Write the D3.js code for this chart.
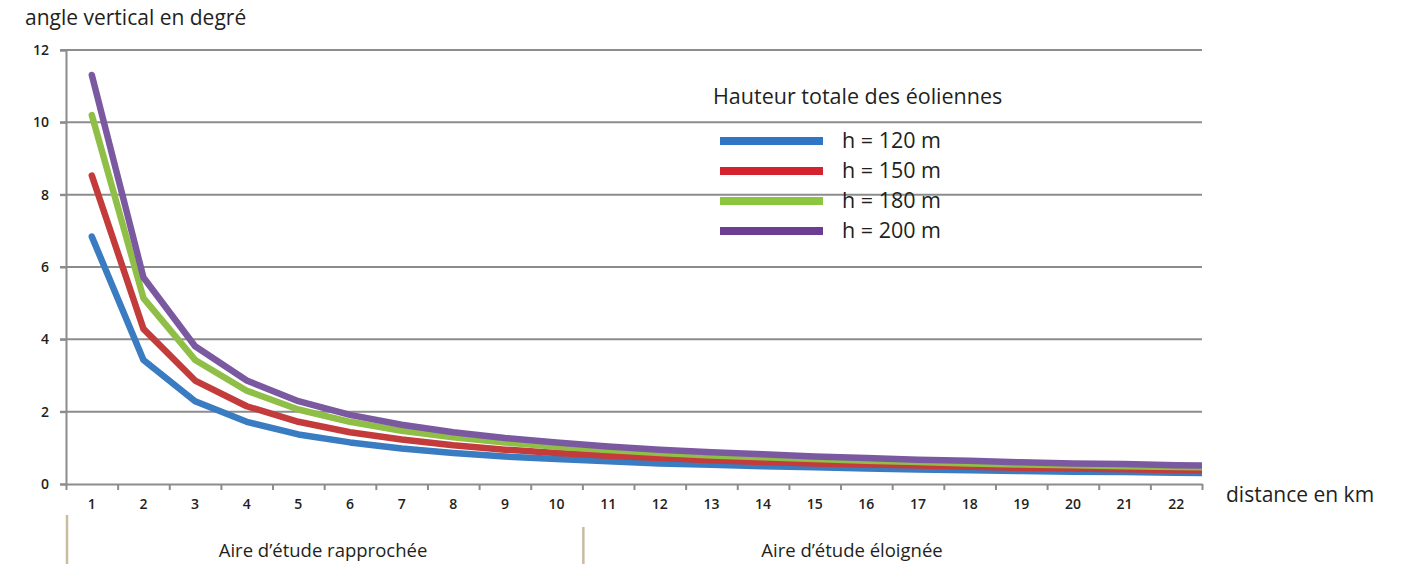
<!DOCTYPE html>
<html>
<head>
<meta charset="utf-8">
<script src="https://cdn.jsdelivr.net/npm/d3@7"></script>
<style>
  body { margin: 0; background: #fff; }
  svg text { font-family: "Open Sans", "Noto Sans", sans-serif; fill: #231f20; }
</style>
</head>
<body>
<div id="chart"></div>
<script>
// distances (km) on the x axis; the 23rd point is cut off at the plot edge
const distances = [1, 2, 3, 4, 5, 6, 7, 8, 9, 10, 11, 12, 13, 14, 15, 16, 17, 18, 19, 20, 21, 22, 23];
const xTickLabels = ["1", "2", "3", "4", "5", "6", "7", "8", "9", "10", "11", "12", "13", "14", "15", "16", "17", "18", "19", "20", "21", "22"];
const yTicks = [0, 2, 4, 6, 8, 10, 12];

// vertical angle (degrees) for each turbine height
const h120 = [6.84, 3.43, 2.29, 1.72, 1.37, 1.15, 0.98, 0.86, 0.76, 0.69, 0.63, 0.57, 0.53, 0.49, 0.46, 0.43, 0.40, 0.38, 0.36, 0.34, 0.33, 0.31, 0.30];
const h150 = [8.53, 4.29, 2.86, 2.15, 1.72, 1.43, 1.23, 1.07, 0.95, 0.86, 0.78, 0.72, 0.66, 0.61, 0.57, 0.54, 0.51, 0.48, 0.45, 0.43, 0.41, 0.39, 0.37];
const h180 = [10.20, 5.14, 3.43, 2.58, 2.06, 1.72, 1.47, 1.29, 1.15, 1.03, 0.94, 0.86, 0.79, 0.74, 0.69, 0.64, 0.61, 0.57, 0.54, 0.52, 0.49, 0.47, 0.45];
const h200 = [11.31, 5.71, 3.81, 2.86, 2.29, 1.91, 1.64, 1.43, 1.27, 1.15, 1.04, 0.95, 0.88, 0.82, 0.76, 0.72, 0.67, 0.64, 0.60, 0.57, 0.55, 0.52, 0.50];

const seriesNames = ["h = 120 m", "h = 150 m", "h = 180 m", "h = 200 m"];
const seriesValues = [h120, h150, h180, h200];
const lineColors = ["#3a7cc2", "#c33b3b", "#8fbf47", "#7b59a1"];
const legendColors = ["#2f76c4", "#d2232e", "#8cc640", "#6c3d92"];

// study zones, bounds in km on the x axis
const zoneNames = ["Aire d\u2019étude rapprochée", "Aire d\u2019étude éloignée"];
const zoneStarts = [0.5, 10.5];
const zoneEnds = [10.5, 22.5];

const width = 1412, height = 567;
const margin = { top: 50, right: 210, bottom: 83, left: 66 };

const svg = d3.select('#chart').append('svg')
  .attr('width', width)
  .attr('height', height);

const x = d3.scaleLinear()
  .domain([0.5, 22.5])
  .range([margin.left, width - margin.right]);
const y = d3.scaleLinear()
  .domain([0, 12])
  .range([height - margin.bottom, margin.top]);

// gridlines
svg.append('g')
  .selectAll('line')
  .data(yTicks.filter(d => d > 0))
  .enter().append('line')
  .attr('x1', x(0.5) - 6)
  .attr('x2', x(22.5))
  .attr('y1', d => y(d))
  .attr('y2', d => y(d))
  .attr('stroke', '#8c8c8c')
  .attr('stroke-width', 2);

// y axis
const yAxis = svg.append('g')
  .attr('transform', 'translate(' + x(0.5) + ',0)')
  .call(d3.axisLeft(y).tickValues(yTicks).tickSize(6).tickPadding(11).tickFormat(d3.format('d')));
yAxis.select('.domain').attr('stroke', '#8c8c8c').attr('stroke-width', 2);
yAxis.selectAll('.tick line').attr('stroke', '#8c8c8c').attr('stroke-width', 2);
yAxis.selectAll('text')
  .style('font-size', '14px')
  .style('font-weight', '600')
  .style('font-family', '"Open Sans", sans-serif')
  .attr('fill', '#231f20');

// x axis: ticks between categories, labels at category centres
const xAxis = svg.append('g')
  .attr('transform', 'translate(0,' + y(0) + ')')
  .call(d3.axisBottom(x).tickValues(d3.range(0.5, 23, 1)).tickSize(6).tickSizeOuter(0).tickFormat(''));
xAxis.select('.domain').attr('stroke', '#8c8c8c').attr('stroke-width', 2);
xAxis.selectAll('.tick line').attr('stroke', '#8c8c8c').attr('stroke-width', 2);

svg.append('g')
  .selectAll('text')
  .data(xTickLabels)
  .enter().append('text')
  .attr('x', (d, i) => x(distances[i]))
  .attr('y', y(0) + 25)
  .attr('text-anchor', 'middle')
  .style('font-size', '14px')
  .style('font-weight', '600')
  .text(d => d);

// lines
const line = d3.line()
  .x((d, i) => x(distances[i]))
  .y(d => y(d));

svg.append('clipPath').attr('id', 'plot')
  .append('rect')
  .attr('x', x(0.5) - 10)
  .attr('y', 0)
  .attr('width', x(22.5) - x(0.5) + 10)
  .attr('height', height);

svg.append('g')
  .attr('clip-path', 'url(#plot)')
  .selectAll('path')
  .data(seriesValues)
  .enter().append('path')
  .attr('d', line)
  .attr('fill', 'none')
  .attr('stroke', (d, i) => lineColors[i])
  .attr('stroke-width', 6.5)
  .attr('stroke-linejoin', 'round')
  .attr('stroke-linecap', 'round');

// axis titles
svg.append('text')
  .attr('x', 25)
  .attr('y', 25)
  .style('font-size', '21px')
  .text('angle vertical en degré');

svg.append('text')
  .attr('x', 1226)
  .attr('y', 502)
  .style('font-size', '21px')
  .text('distance en km');

// legend
svg.append('text')
  .attr('x', 713)
  .attr('y', 104)
  .style('font-size', '21.5px')
  .text('Hauteur totale des éoliennes');

const legend = svg.selectAll('.legend')
  .data(seriesNames)
  .enter().append('g')
  .attr('class', 'legend')
  .attr('transform', (d, i) => 'translate(720,' + (141 + i * 30) + ')');

legend.append('line')
  .attr('x1', 0)
  .attr('x2', 103)
  .attr('stroke', (d, i) => legendColors[i])
  .attr('stroke-width', 8);

legend.append('text')
  .attr('x', 122)
  .attr('y', 7)
  .style('font-size', '21.5px')
  .text(d => d);

// study zones under the axis
const zone = svg.selectAll('.zone')
  .data(zoneNames)
  .enter().append('g')
  .attr('class', 'zone');

zone.append('line')
  .attr('x1', (d, i) => x(zoneStarts[i]) + 1)
  .attr('x2', (d, i) => x(zoneStarts[i]) + 1)
  .attr('y1', (d, i) => i === 0 ? 515 : 527)
  .attr('y2', 564)
  .attr('stroke', '#c9bba0')
  .attr('stroke-width', 2.5);

zone.append('text')
  .attr('x', (d, i) => i === 0 ? 323 : 852)
  .attr('y', 557)
  .attr('text-anchor', 'middle')
  .style('font-size', '18.5px')
  .text(d => d);
</script>
</body>
</html>
